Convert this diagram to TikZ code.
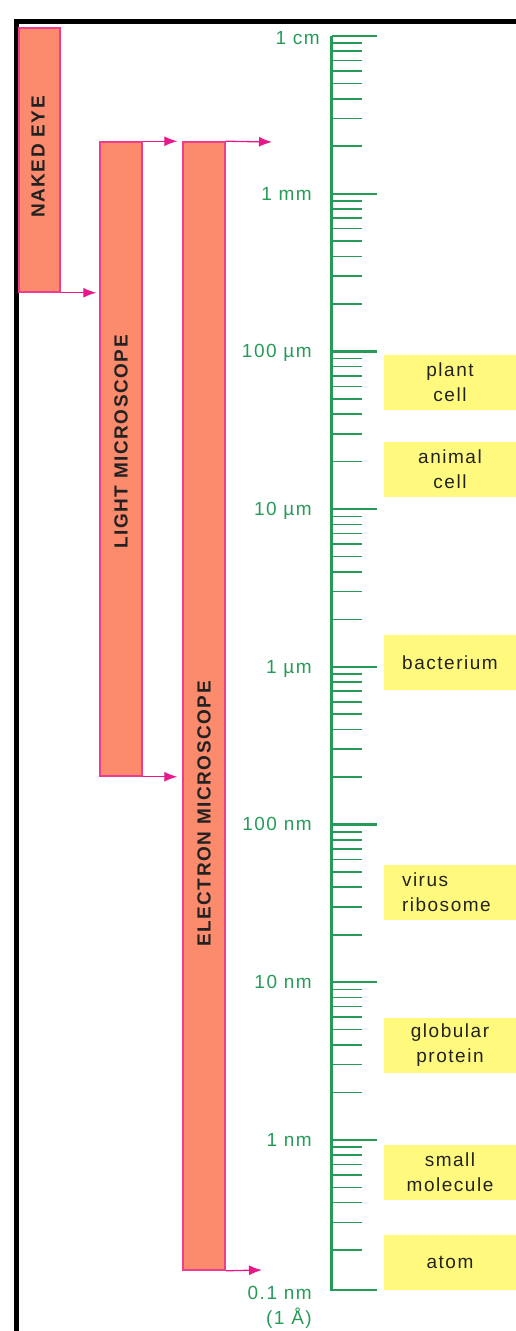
\documentclass[tikz,border=0pt]{standalone}
\usepackage{fontspec}
\setmainfont{Liberation Sans}[LetterSpace=8]
\usepackage{xcolor}
\definecolor{scalegreen}{RGB}{38,155,88}
\definecolor{barfill}{RGB}{252,138,108}
\definecolor{barpink}{RGB}{240,60,140}
\definecolor{arrowpink}{RGB}{232,24,138}
\definecolor{boxyellow}{RGB}{255,250,125}
\definecolor{labeldark}{RGB}{34,34,34}
\usetikzlibrary{arrows.meta,calc}

\begin{document}
\begin{tikzpicture}[x=1pt, y=-1pt,
  rangebar/.style={
    rectangle, inner sep=0pt,
    draw=barpink, line width=1.5pt,
    fill=barfill
  },
  barlabel/.style={rotate=90, font=\fontsize{19}{21}\selectfont\bfseries, text=labeldark},
  reach/.style={-{Latex[length=13pt,width=10pt]}, line width=1.3pt, draw=arrowpink},
  decade/.style={
    anchor=east, inner sep=0pt,
    text height=13.6pt, text depth=0pt,
    font=\fontsize{19}{25}\selectfont,
    text=scalegreen
  },
  objbox/.style={
    rectangle, fill=boxyellow,
    minimum height=55pt, text width=96pt,
    inner xsep=18pt, inner ysep=0pt,
    align=center,
    font=\fontsize{19}{25}\selectfont,
    text=labeldark
  },
  majortick/.style={draw=scalegreen, line width=2.2pt},
  minortick/.style={draw=scalegreen, line width=1.6pt}
]
\useasboundingbox (0,0) rectangle (516,1331);

\draw[line width=5pt] (16.5,1331) -- (16.5,21) -- (516,21);

\node[rangebar, minimum width=41pt, minimum height=264pt]  (eye) at (39.5,160) {};
\node[rangebar, minimum width=42pt, minimum height=634pt]  (lm)  at (121,459)  {};
\node[rangebar, minimum width=42pt, minimum height=1128pt] (em)  at (204,706)  {};

\node[barlabel] (eyelabel) at (38,157)  {NAKED EYE};
\node[barlabel] (lmlabel)  at (121,442) {LIGHT MICROSCOPE};
\node[barlabel] (emlabel)  at (204,814) {ELECTRON MICROSCOPE};

\coordinate (emtop) at (272,142);
\coordinate (embot) at (262,1270);

\draw[reach] (eye.south east) -- ($(eye.south east -| lm.west)+(-3,0)$);
\draw[reach] (lm.north east) -- ($(lm.north east -| em.west)+(-5,0)$);
\draw[reach] (lm.south east) -- ($(lm.south east -| em.west)+(-5,0)$);
\draw[reach] (em.north east) -- (emtop);
\draw[reach] (em.south east) -- (embot);

\draw[majortick] (331.5,36) -- (331.5,1290) -- (377,1290);
\foreach \d in {0,...,7}{
  \draw[majortick] (331.5,{36+157.7*\d}) -- ++(45.5,0);
  \foreach \m in {2,...,9}
    \draw[minortick] (331.5,{36+157.7*(\d+1-log10(\m))}) -- ++(30,0);
}

\node[decade] (cm)    at (320,38)   {1 cm};
\node[decade] (mm)    at (312,194)  {1 mm};
\node[decade] (um100) at (312,351)  {100 µm};
\node[decade] (um10)  at (312,509)  {10 µm};
\node[decade] (um1)   at (312,667)  {1 µm};
\node[decade] (nm100) at (312,824)  {100 nm};
\node[decade] (nm10)  at (312,982)  {10 nm};
\node[decade] (nm1)   at (312,1140) {1 nm};
\node[decade, anchor=north east, align=right] (nm01) at (312,1311) {0.1 nm\\(1 Å)};

\node[objbox] (plant)    at (450,382.5)  {plant\\cell};
\node[objbox] (animal)   at (450,469.5)  {animal\\cell};
\node[objbox] (bact)     at (450,662.5)  {bacterium};
\node[objbox, align=left] (virus) at (450,892.5) {virus\\ribosome};
\node[objbox] (protein)  at (450,1045.5) {globular\\protein};
\node[objbox] (molecule) at (450,1172.5) {small\\molecule};
\node[objbox] (atom)     at (450,1262.5) {atom};
\end{tikzpicture}
\end{document}
